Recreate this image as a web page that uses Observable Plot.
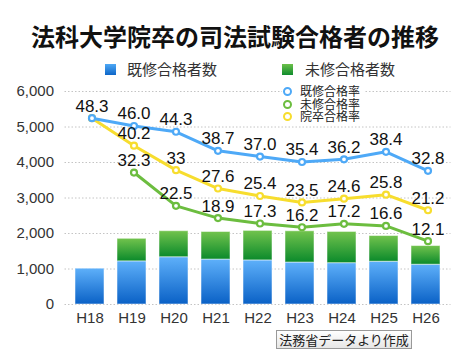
<!DOCTYPE html>
<html>
<head>
<meta charset="utf-8">
<script src="https://cdn.jsdelivr.net/npm/d3@7"></script>
<script src="https://cdn.jsdelivr.net/npm/@observablehq/plot@0.6"></script>
<style>
  html, body { margin: 0; padding: 0; background: #fff; }
  #wrap { position: relative; width: 470px; height: 353px; overflow: hidden; font-family: "Liberation Sans", "Noto Sans CJK JP", sans-serif; }
  #wrap svg { position: absolute; left: 0; top: 0; }
  .abs { position: absolute; white-space: nowrap; }
  #title { left: 0; top: 22px; width: 470px; height: 28px; text-align: center; font: bold 24px "Noto Sans CJK JP", sans-serif; line-height: 28px; color: #111; }
  .lg { font: 15px "Noto Sans CJK JP", sans-serif; color: #333; line-height: 20px; height: 20px; top: 59px; display: block; }
  .sq { position: absolute; width: 11px; height: 11px; top: 64px; }
  #inlegend { left: 282px; top: 84px; width: 82px; height: 38px; background: #fff; }
  .lrow { position: absolute; left: 0; width: 82px; height: 12px; }
  .lrow i { position: absolute; left: 1px; top: 2px; width: 5px; height: 5px; border-radius: 50%; border: 2px solid; background: #fff; }
  .lrow b { position: absolute; left: 18px; top: 0; display: block; height: 12px; font: normal 12px "Noto Sans CJK JP", sans-serif; line-height: 12px; color: #222; }
  #source { left: 276px; top: 330px; width: 134px; height: 17px; border: 1px solid #999; background: linear-gradient(#fff, #e6e6e6); font: 13px "Noto Sans CJK JP", sans-serif; line-height: 17px; text-align: center; color: #222; }
</style>
</head>
<body>
<div id="wrap"></div>
<script>
const years = ["H18","H19","H20","H21","H22","H23","H24","H25","H26"];
const kishuPass = [1009,1215,1331,1266,1242,1182,1164,1205,1121];
const mishuPass = [0,636,734,777,832,881,880,724,526];
const kishuRate = [48.3,46.0,44.3,38.7,37.0,35.4,36.2,38.4,32.8];
const mishuRate = [null,32.3,22.5,18.9,17.3,16.2,17.2,16.6,12.1];
const allRate = [48.3,40.2,33,27.6,25.4,23.5,24.6,25.8,21.2];
const yTicks = [0,1000,2000,3000,4000,5000,6000];
const rateLabels = ["既修合格率","未修合格率","院卒合格率"];
const barLabels = ["既修合格者数","未修合格者数"];
const titleText = "法科大学院卒の司法試験合格者の推移";
const sourceText = "法務省データより作成";

// hidden secondary axis for rates (%), mapped onto the count scale
const rateDomain = [-6.53, 56.15];
const yMax = 6000;
const rateToY = r => r == null ? undefined : (r - rateDomain[0]) / (rateDomain[1] - rateDomain[0]) * yMax;

const bars = years.map((y, i) => ({year: y, k: kishuPass[i], m: mishuPass[i], t: kishuPass[i] + mishuPass[i]}));
const series = [
  {name: rateLabels[1], rates: mishuRate, color: "#6cbd3f"},
  {name: rateLabels[2], rates: allRate, color: "#f7dd2e"},
  {name: rateLabels[0], rates: kishuRate, color: "#4ea9f7"}
];
const pts = series.map(s => years.map((y, i) => ({year: y, r: s.rates[i], v: rateToY(s.rates[i])})));
const labelPts = [];
series.forEach((s, si) => pts[si].forEach((p, i) => {
  if (p.r == null) return;
  if (s.name === rateLabels[2] && p.r === kishuRate[i]) return;
  labelPts.push(p);
}));

const defs = () => {
  const d = d3.create("svg:defs");
  const g1 = d.append("linearGradient").attr("id", "gBlue").attr("x1", 0).attr("y1", 0).attr("x2", 0).attr("y2", 1);
  g1.append("stop").attr("offset", "0%").attr("stop-color", "#5eb0fa");
  g1.append("stop").attr("offset", "100%").attr("stop-color", "#0a61c6");
  const g2 = d.append("linearGradient").attr("id", "gGreen").attr("x1", 0).attr("y1", 0).attr("x2", 0).attr("y2", 1);
  g2.append("stop").attr("offset", "0%").attr("stop-color", "#72c34d");
  g2.append("stop").attr("offset", "100%").attr("stop-color", "#0b8a2b");
  return d.node();
};

const marks = [
  defs,
  Plot.ruleY(yTicks, {stroke: "#c4c4c4", strokeDasharray: "1.5,2"}),
  Plot.axisY({ticks: yTicks, tickSize: 0, tickPadding: 11, tickFormat: d3.format(","), fontSize: 15, color: "#333", label: null}),
  Plot.axisX({tickSize: 0, tickPadding: 8, fontSize: 15, color: "#333", label: null}),
  Plot.barY(bars, {x: "year", y1: 0, y2: "k", fill: "url(#gBlue)", stroke: "rgba(255,255,255,0.5)", strokeWidth: 1}),
  Plot.barY(bars.filter(d => d.m > 0), {x: "year", y1: "k", y2: "t", fill: "url(#gGreen)", stroke: "rgba(255,255,255,0.5)", strokeWidth: 1})
];
series.forEach((s, si) => {
  marks.push(Plot.line(pts[si], {x: "year", y: "v", stroke: s.color, strokeWidth: 3, dx: 2}));
});
series.forEach((s, si) => {
  marks.push(Plot.dot(pts[si].filter(p => p.r != null), {x: "year", y: "v", r: 3, fill: "#fff", stroke: s.color, strokeWidth: 2.2, dx: 2}));
});
marks.push(Plot.text(labelPts, {x: "year", y: "v", text: d => d.r % 1 === 0 && d.r !== 33 ? d.r.toFixed(1) : String(d.r), dx: 2, dy: -12, lineAnchor: "middle", fontSize: 17, fill: "#111", fontFamily: "Liberation Sans, Arial, sans-serif"}));

const chart = Plot.plot({
  width: 470,
  height: 353,
  marginTop: 91,
  marginBottom: 49,
  marginLeft: 64.5,
  marginRight: 19.5,
  style: {fontFamily: "Liberation Sans, Arial, sans-serif", background: "transparent", overflow: "visible"},
  x: {type: "band", domain: years, paddingInner: 0.3, paddingOuter: 0.15, axis: null},
  y: {domain: [0, yMax], axis: null},
  marks
});

const wrap = document.getElementById("wrap");
wrap.appendChild(chart);

const add = (html) => { const t = document.createElement("template"); t.innerHTML = html.trim(); wrap.appendChild(t.content.firstChild); };
add(`<div id="title" class="abs">${titleText}</div>`);
add(`<div class="sq" style="left:105px;background:linear-gradient(#4ea8f5,#0d66c8)"></div>`);
add(`<div class="abs lg" style="left:127px">${barLabels[0]}</div>`);
add(`<div class="sq" style="left:282px;background:linear-gradient(#6cc04a,#0f8c2d)"></div>`);
add(`<div class="abs lg" style="left:305px">${barLabels[1]}</div>`);
const colorsByName = {};
series.forEach(s => colorsByName[s.name] = s.color);
add(`<div id="inlegend" class="abs">${rateLabels.map((n, i) => `<div class="lrow" style="top:${1 + i * 12.5}px"><i style="border-color:${colorsByName[n]}"></i><b>${n}</b></div>`).join("")}</div>`);
add(`<div id="source" class="abs">${sourceText}</div>`);
</script>
</body>
</html>
